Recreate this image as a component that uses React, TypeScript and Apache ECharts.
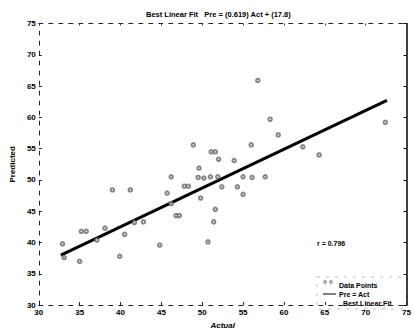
import React, { useEffect, useRef } from "react";
import * as echarts from "echarts";

const titleText = "Best Linear Fit   Pre = (0.619) Act + (17.8)";
const xTicks = [30, 75, 5];
const yTicks = [30, 75, 5];
const dataPoints: [number, number][] = [
  [32.9, 39.8], [33.1, 37.6], [35.0, 37.0], [35.2, 41.8], [35.8, 41.8],
  [37.1, 40.4], [38.1, 42.3], [39.9, 37.8], [40.5, 41.3], [41.7, 43.2],
  [39.0, 48.4], [41.2, 48.4], [42.8, 43.3], [44.8, 39.6], [45.7, 47.9],
  [46.2, 50.5], [46.2, 46.2], [46.8, 44.3], [47.2, 44.3], [47.8, 49.0],
  [48.3, 49.0], [48.9, 55.6], [49.6, 51.9], [49.5, 50.4], [50.2, 50.3],
  [51.0, 50.5], [51.9, 50.5], [49.8, 47.1], [50.7, 40.1], [51.1, 54.5],
  [51.6, 54.5], [52.0, 53.3], [52.4, 48.9], [51.6, 45.3], [51.4, 43.3],
  [53.9, 53.1], [55.0, 50.5], [56.1, 50.4], [57.7, 50.5], [54.3, 48.9],
  [55.0, 47.7], [56.0, 55.6], [56.8, 65.9], [58.3, 59.7], [59.3, 57.2],
  [62.3, 55.3], [64.3, 54.0], [72.4, 59.2],
];
const fitLine: [number, number][] = [[32.7, 38.0], [72.6, 62.7]];
const rText = "r = 0.796";
const legendLabels = ["Data Points", "Pre = Act", "Best Linear Fit"];

const FONT = "Liberation Sans, Arial, sans-serif";

export default function App() {
  const ref = useRef<HTMLDivElement>(null);
  useEffect(() => {
    document.body.style.margin = "0";
    const chart = echarts.init(ref.current!, undefined, { renderer: "svg" });
    const labelStyle = { color: "#000", fontSize: 8, fontWeight: "bold" as const, fontFamily: FONT };
    const dashedLine = { show: true, lineStyle: { color: "#222", width: 1, type: [4, 6] as any } };
    chart.setOption({
      animation: false,
      backgroundColor: "#fff",
      title: {
        text: titleText,
        left: 141,
        top: 5,
        textStyle: { fontSize: 7.5, fontWeight: "bold", color: "#000", fontFamily: FONT },
      },
      grid: { left: 36, right: 5, top: 23.5, bottom: 20.5, containLabel: false },
      xAxis: [
        {
          type: "value", min: xTicks[0], max: xTicks[1], interval: xTicks[2], position: "bottom",
          axisLine: dashedLine,
          axisTick: { show: true, inside: true, length: 3, lineStyle: { color: "#222" } },
          axisLabel: { ...labelStyle, margin: 3 },
          splitLine: { show: false },
          name: "Actual", nameLocation: "middle", nameGap: 13,
          nameTextStyle: { ...labelStyle, fontStyle: "italic" },
        },
        {
          type: "value", min: xTicks[0], max: xTicks[1], interval: xTicks[2], position: "top",
          axisLine: dashedLine,
          axisTick: { show: true, inside: true, length: 2, lineStyle: { color: "#444" } },
          axisLabel: { show: false }, splitLine: { show: false },
        },
      ],
      yAxis: [
        {
          type: "value", min: yTicks[0], max: yTicks[1], interval: yTicks[2], position: "left",
          axisLine: dashedLine,
          axisTick: { show: true, inside: true, length: 3, lineStyle: { color: "#222" } },
          axisLabel: { ...labelStyle, margin: 3 },
          splitLine: { show: false },
          name: "Predicted", nameLocation: "middle", nameGap: 14,
          nameTextStyle: labelStyle,
        },
        {
          type: "value", min: yTicks[0], max: yTicks[1], interval: yTicks[2], position: "right",
          axisLine: { show: true, lineStyle: { color: "#000", width: 1.5 } },
          axisTick: { show: true, inside: true, length: 3, lineStyle: { color: "#000" } },
          axisLabel: { show: false }, splitLine: { show: false },
        },
      ],
      series: [
        {
          name: legendLabels[0], type: "scatter", data: dataPoints,
          xAxisIndex: 0, yAxisIndex: 0,
          symbol: "emptyCircle", symbolSize: 3.5, z: 3,
          itemStyle: { color: "#666", borderColor: "#666", borderWidth: 0.6 },
        },
        {
          name: legendLabels[2], type: "line", data: fitLine, symbol: "none",
          xAxisIndex: 0, yAxisIndex: 0, z: 2,
          lineStyle: { color: "#000", width: 3 },
        },
      ],
      graphic: [
        { type: "text", x: 317, y: 243, style: { text: rText, font: `bold 7px ${FONT}`, fill: "#000", verticalAlign: "middle" } },
        { type: "rect", shape: { x: 317, y: 277, width: 90, height: 32 }, style: { fill: "none", stroke: "#aaa", lineWidth: 0.8, lineDash: [3, 6] } },
        { type: "circle", shape: { cx: 325, cy: 282, r: 1.3 }, style: { fill: "none", stroke: "#333", lineWidth: 0.8 } },
        { type: "circle", shape: { cx: 331, cy: 282, r: 1.3 }, style: { fill: "none", stroke: "#333", lineWidth: 0.8 } },
        { type: "text", x: 339, y: 285, style: { text: legendLabels[0], font: `bold 7px ${FONT}`, fill: "#000", verticalAlign: "middle" } },
        { type: "line", shape: { x1: 323, y1: 294, x2: 336, y2: 294 }, style: { stroke: "#000", lineWidth: 1 } },
        { type: "text", x: 339, y: 294, style: { text: legendLabels[1], font: `bold 7px ${FONT}`, fill: "#000", verticalAlign: "middle" } },
        { type: "text", x: 343, y: 303, style: { text: legendLabels[2], font: `bold 7px ${FONT}`, fill: "#000", verticalAlign: "middle" } },
      ],
    });
    return () => chart.dispose();
  }, []);
  return <div ref={ref} style={{ width: 414, height: 334 }} />;
}
